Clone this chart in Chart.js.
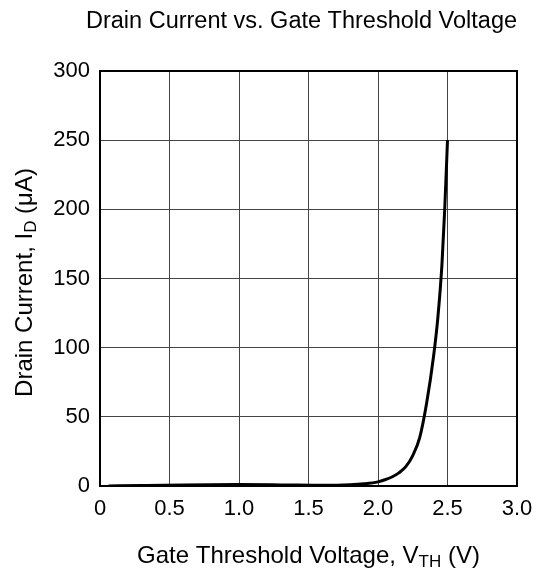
<!DOCTYPE html>
<html><head><meta charset="utf-8">
<script src="https://cdn.jsdelivr.net/npm/chart.js@4.4.1/dist/chart.umd.min.js"></script>
<style>html,body{margin:0;padding:0;background:#fff}#wrap{width:537px;height:574px}canvas{display:block}</style>
</head><body><div id="wrap"><canvas id="c" width="537" height="574"></canvas></div>
<script>
const chartTitle = 'Drain Current vs. Gate Threshold Voltage';
const xAxisTitle = [{t:'Gate Threshold Voltage, V'},{t:'TH',sub:true},{t:' (V)'}];
const yAxisTitle = [{t:'Drain Current, I'},{t:'D',sub:true},{t:' (\u03BCA)'}];
const gateVoltage  = [0.06, 0.3, 0.6, 1.0, 1.3, 1.6, 1.8, 1.9, 2.0, 2.05, 2.1, 2.15, 2.2, 2.25, 2.3, 2.35, 2.4, 2.43, 2.46, 2.48, 2.5];
const drainCurrent = [0,    0.4, 0.8, 1.0, 0.8, 0.5, 0.9, 1.6, 3,   4.5,  6.5, 9.5,  14,  22,   35,  60,   94,  121,  160,  200,  250];
const xTickValues = [0, 0.5, 1.0, 1.5, 2.0, 2.5, 3.0];
const xTickLabels = ['0', '0.5', '1.0', '1.5', '2.0', '2.5', '3.0'];
const yTickValues = [0, 50, 100, 150, 200, 250, 300];
const yTickLabels = ['0', '50', '100', '150', '200', '250', '300'];

const FONT = "'Liberation Sans', Arial, Helvetica, sans-serif";

function drawRich(ctx, parts, size, cx, cy, rot) {
  ctx.save();
  ctx.translate(cx, cy);
  if (rot) ctx.rotate(rot);
  const subSize = Math.round(size * 0.7);
  let total = 0;
  const widths = parts.map(p => {
    ctx.font = (p.sub ? subSize : size) + 'px ' + FONT;
    const w = ctx.measureText(p.t).width;
    total += w;
    return w;
  });
  let x = -total / 2;
  ctx.fillStyle = '#000';
  ctx.textBaseline = 'alphabetic';
  ctx.textAlign = 'left';
  parts.forEach((p, i) => {
    ctx.font = (p.sub ? subSize : size) + 'px ' + FONT;
    ctx.fillText(p.t, x, p.sub ? size * 0.18 : 0);
    x += widths[i];
  });
  ctx.restore();
}

const decor = {
  id: 'decor',
  afterDraw(chart) {
    const ctx = chart.ctx;
    const a = chart.chartArea;
    ctx.save();
    ctx.strokeStyle = '#000';
    ctx.lineWidth = 2;
    ctx.strokeRect(a.left, a.top, a.right - a.left, a.bottom - a.top);
    ctx.restore();
    const cx = (a.left + a.right) / 2;
    const cy = (a.top + a.bottom) / 2;
    drawRich(ctx, [{t: chartTitle}], 23.5, cx - 7, 28, 0);
    drawRich(ctx, xAxisTitle, 24, cx, 563, 0);
    drawRich(ctx, yAxisTitle, 24, 32, cy + 4, -Math.PI / 2);
  }
};

const tickFont = {family: FONT, size: 22};

new Chart(document.getElementById('c'), {
  type: 'line',
  data: {
    datasets: [{
      data: gateVoltage.map((v, i) => ({x: v, y: drainCurrent[i]})),
      borderColor: '#000',
      borderWidth: 3,
      pointRadius: 0,
      fill: false,
      cubicInterpolationMode: 'monotone'
    }]
  },
  options: {
    responsive: false,
    animation: false,
    devicePixelRatio: 1,
    layout: {padding: {top: 71, right: 20, left: 0, bottom: 0}},
    plugins: {legend: {display: false}, tooltip: {enabled: false}, title: {display: false}},
    scales: {
      x: {
        type: 'linear', min: 0, max: 3,
        afterBuildTicks: s => { s.ticks = xTickValues.map(v => ({value: v})); },
        afterFit: s => { s.height = 88; s.paddingLeft = 0; s.paddingRight = 0; },
        ticks: {callback: (v, i) => xTickLabels[i], font: tickFont, color: '#000', padding: 10, maxRotation: 0},
        grid: {color: '#444', lineWidth: 1, drawTicks: false},
        border: {display: false}
      },
      y: {
        type: 'linear', min: 0, max: 300,
        afterBuildTicks: s => { s.ticks = yTickValues.map(v => ({value: v})); },
        afterFit: s => { s.width = 100; s.paddingTop = 0; s.paddingBottom = 0; },
        ticks: {callback: (v, i) => yTickLabels[i], font: tickFont, color: '#000', padding: 10},
        grid: {color: '#444', lineWidth: 1, drawTicks: false},
        border: {display: false}
      }
    }
  },
  plugins: [decor]
});
</script>
</body></html>
